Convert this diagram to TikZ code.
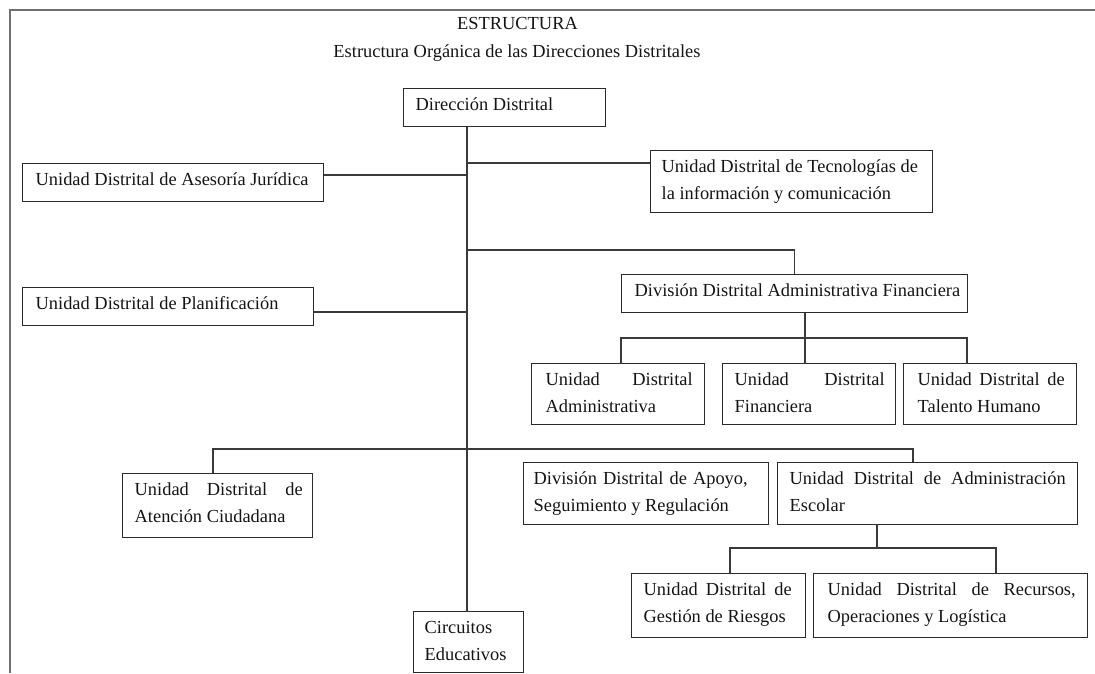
\documentclass[tikz,border=0pt]{standalone}
\usepackage{fontspec}
\setmainfont{Liberation Serif}
\usetikzlibrary{calc}

\definecolor{inkcol}{HTML}{141414}
\definecolor{boxcol}{HTML}{2B2B2B}
\definecolor{conncol}{HTML}{3A3A3A}
\definecolor{framecol}{HTML}{707070}

% one text line stretched across the box / one line set flush left
\newcommand\jline[1]{\makebox[\linewidth][s]{#1}}
\newcommand\lline[1]{\makebox[\linewidth][l]{#1}}
% box content: total width, left padding, height, text width, lines
\newcommand\orgtext[5]{\makebox[#1pt][l]{\hspace*{#2pt}\parbox[c][#3pt][t]{#4pt}{\rule{0pt}{21.5pt}#5}}}

\tikzset{
  orgbox/.style={draw=boxcol, line width=1.4pt, inner sep=0pt, anchor=north west,
    text=inkcol, font=\fontsize{18.4pt}{27.5pt}\selectfont},
  headtext/.style={inner sep=0pt, anchor=base, text=inkcol,
    font=\fontsize{18.4pt}{22pt}\selectfont},
  conn/.style={draw=conncol, line width=1.3pt},
  frameline/.style={draw=framecol, line width=2pt}
}

\begin{document}
\begin{tikzpicture}[x=1pt, y=-1pt]
\useasboundingbox (0,0) rectangle (1095,673);
\clip (0,0) rectangle (1095,673);

% page frame
\draw[frameline] (1095,10) -- (9.5,10) -- (9.5,673);

% headings
\node[headtext] (title) at (517.5,29.5) {ESTRUCTURA};
\node[headtext] (subtitle) at (517,57.5) {Estructura Orgánica de las Direcciones Distritales};

% units
\node[orgbox] (dir) at (403,88) {\orgtext{202}{12}{38}{178}{\lline{Dirección Distrital}}};
\node[orgbox] (ase) at (22,163) {\orgtext{301}{13}{38}{280}{\lline{Unidad Distrital de Asesoría Jurídica}}};
\node[orgbox] (tec) at (650,150) {\orgtext{282}{11}{62}{262}{\lline{Unidad Distrital de Tecnologías de}\\\lline{la información y comunicación}}};
\node[orgbox] (pla) at (22,287) {\orgtext{291}{13}{38}{270}{\lline{Unidad Distrital de Planificación}}};
\node[orgbox] (ddaf) at (621,274) {\orgtext{346}{13}{38}{325}{\lline{División Distrital Administrativa Financiera}}};
\node[orgbox] (uadm) at (531,363) {\orgtext{173}{14}{61}{147}{\jline{Unidad Distrital}\\\lline{Administrativa}}};
\node[orgbox] (ufin) at (722,363) {\orgtext{173}{12}{61}{150}{\jline{Unidad Distrital}\\\lline{Financiera}}};
\node[orgbox] (utal) at (903,363) {\orgtext{173}{14}{61}{147}{\jline{Unidad Distrital de}\\\lline{Talento Humano}}};
\node[orgbox] (aten) at (122,473) {\orgtext{190}{12}{64}{168}{\jline{Unidad Distrital de}\\\lline{Atención Ciudadana}}};
\node[orgbox] (ddasr) at (523,462) {\orgtext{245}{10}{62}{214}{\jline{División Distrital de Apoyo,}\\\lline{Seguimiento y Regulación}}};
\node[orgbox] (udae) at (777,462) {\orgtext{300}{12}{62}{276}{\jline{Unidad Distrital de Administración}\\\lline{Escolar}}};
\node[orgbox] (ugr) at (631,573) {\orgtext{174}{12}{64}{148}{\jline{Unidad Distrital de}\\\lline{Gestión de Riesgos}}};
\node[orgbox] (urec) at (813,573) {\orgtext{274}{14}{64}{248}{\jline{Unidad Distrital de Recursos,}\\\lline{Operaciones y Logística}}};
\node[orgbox] (circ) at (413,611) {\orgtext{110}{11}{61}{95}{\lline{Circuitos}\\\lline{Educativos}}};

% junction points
\coordinate (jT) at (467,163);
\coordinate (jA) at (467,175);
\coordinate (jF) at (467,250);
\coordinate (jP) at (467,312);
\coordinate (fL) at (621,338);
\coordinate (fM) at (805,338);
\coordinate (fR) at (967,338);
\coordinate (bL) at (213,449);
\coordinate (bR) at (913,449);
\coordinate (eL) at (730,548);
\coordinate (eM) at (877,548);
\coordinate (eR) at (996,548);

% main trunk and side branches
\draw[conn] (dir.south -| jT) -- (jT |- circ.north);
\draw[conn] (jT) -- (jT -| tec.west);
\draw[conn] (jA) -- (jA -| ase.east);
\draw[conn] (jF) -| (ddaf.north);
\draw[conn] (jP) -- (jP -| pla.east);

% administrative-financial division
\draw[conn] (ddaf.south -| fM) -- (fM |- ufin.north);
\draw[conn] (fL |- uadm.north) -- (fL) -- (fR) -- (fR |- utal.north);

% lower bar
\draw[conn] (bL |- aten.north) -- (bL) -- (bR) -- (bR |- udae.north);

% school administration unit
\draw[conn] (udae.south -| eM) -- (eM);
\draw[conn] (eL |- ugr.north) -- (eL) -- (eR) -- (eR |- urec.north);
\end{tikzpicture}
\end{document}
